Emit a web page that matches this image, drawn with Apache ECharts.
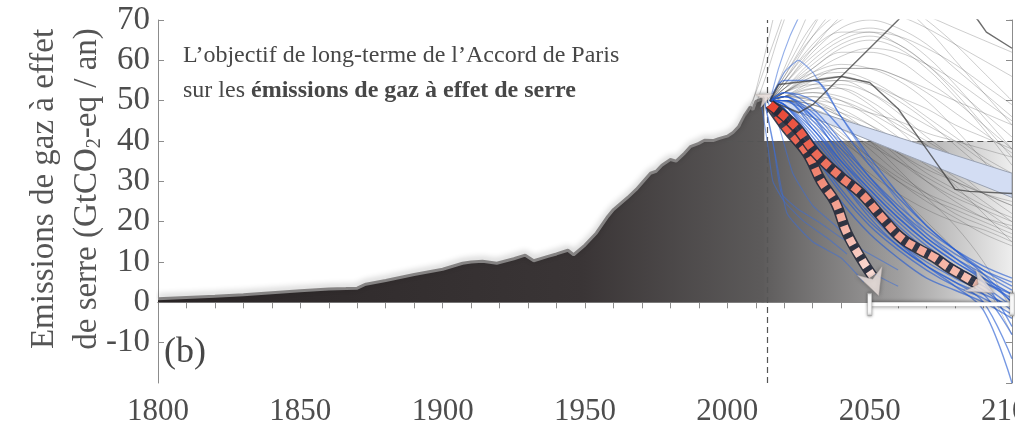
<!DOCTYPE html>
<html>
<head>
<meta charset="utf-8">
<title>Emissions de gaz à effet de serre</title>
<script src="https://cdn.jsdelivr.net/npm/echarts@6/dist/echarts.min.js"></script>
<style>
  html, body { margin: 0; padding: 0; background: #fff; }
  #chart { width: 1015px; height: 428px; }
</style>
</head>
<body>
<div id="chart"></div>
<script>
// historique des émissions (GtCO2-eq / an)
const histYears = [1800, 1810, 1820, 1830, 1840, 1850, 1860, 1866, 1870, 1873, 1880, 1890, 1900, 1907, 1910, 1914, 1919, 1925, 1929, 1932, 1937, 1940, 1944, 1946, 1950, 1954, 1958, 1960, 1965, 1968, 1970, 1973, 1975, 1977, 1980, 1982, 1985, 1987, 1990, 1992, 1995, 1997, 2000, 2002, 2004, 2006, 2008, 2009, 2010, 2012, 2013]
const histValues = [0.9, 1.2, 1.5, 1.9, 2.4, 2.9, 3.3, 3.4, 3.5, 4.5, 5.4, 6.9, 8.2, 9.7, 10.0, 10.2, 9.7, 10.8, 11.7, 10.3, 11.4, 12.0, 12.9, 11.8, 14.2, 17.2, 21.3, 23.0, 26.0, 28.0, 29.6, 32.0, 32.5, 34.0, 35.4, 35.0, 37.0, 38.6, 39.4, 40.2, 40.1, 40.6, 41.2, 42.1, 43.6, 46.3, 48.4, 47.8, 49.8, 50.4, 50.8]

// scénarios (gris)
const grayYears = [2015, 2020, 2030, 2040, 2050, 2060, 2070, 2080, 2090, 2100]
const grayRuns = [
  [50, 56, 68, 80, 90, 95, 98, 100, 100, 100],
  [50, 58, 74, 88, 96, 100, 100, 100, 100, 100],
  [50, 54, 63, 71, 76, 78, 78, 76, 73, 70],
  [50, 55, 64, 70, 72, 71, 68, 64, 60, 56],
  [50, 53, 60, 65, 67, 66, 63, 59, 54, 49],
  [50, 54, 62, 68, 70, 68, 64, 58, 52, 46],
  [50, 52, 57, 61, 63, 62, 59, 55, 50, 45],
  [50, 53, 58, 62, 62, 60, 55, 50, 44, 38],
  [50, 51, 55, 58, 58, 56, 52, 47, 42, 37],
  [50, 52, 56, 57, 55, 51, 46, 41, 36, 32],
  [50, 51, 53, 54, 52, 48, 44, 40, 35, 31],
  [50, 50, 51, 50, 47, 43, 39, 35, 31, 28],
  [50, 51, 52, 50, 46, 41, 36, 31, 27, 24],
  [50, 50, 49, 46, 42, 37, 32, 28, 24, 21],
  [50, 49, 47, 44, 40, 35, 30, 26, 23, 20],
  [50, 51, 50, 47, 42, 36, 30, 25, 21, 18],
  [50, 50, 48, 44, 38, 32, 27, 22, 19, 16],
  [50, 49, 46, 41, 36, 31, 27, 24, 21, 19],
  [50, 50, 49, 46, 43, 40, 37, 34, 31, 29],
  [50, 52, 55, 55, 52, 47, 41, 36, 32, 29],
  [50, 51, 51, 48, 44, 39, 34, 30, 27, 25],
  [50, 49, 45, 40, 35, 30, 26, 23, 20, 17],
  [50, 50, 47, 42, 36, 30, 25, 21, 17, 14],
  [50, 51, 53, 53, 50, 45, 39, 33, 27, 22],
  [50, 53, 59, 64, 66, 64, 59, 52, 44, 36],
  [50, 54, 61, 66, 68, 66, 61, 54, 46, 38],
  [50, 57, 69, 76, 78, 75, 70, 64, 57, 50],
  [50, 55, 66, 74, 77, 74, 68, 60, 52, 44],
  [50, 52, 56, 58, 58, 56, 53, 50, 47, 44],
  [50, 51, 54, 55, 54, 51, 48, 44, 41, 38],
  [50, 50, 48, 45, 41, 37, 33, 30, 27, 24],
  [50, 49, 44, 38, 32, 27, 23, 20, 18, 15],
  [50, 52, 54, 53, 49, 43, 36, 29, 22, 15],
  [50, 50, 50, 49, 47, 45, 42, 40, 38, 36],
  [50, 56, 66, 72, 74, 73, 71, 68, 65, 62],
  [50, 53, 57, 59, 58, 55, 50, 43, 35, 26],
  [50, 51, 50, 46, 40, 33, 26, 19, 10, -2],
  [50, 50, 47, 41, 34, 27, 20, 13, 5, -8],
  [50, 52, 58, 63, 65, 63, 58, 51, 43, 34],
  [50, 51, 52, 51, 48, 44, 40, 36, 33, 30],
  [50, 50, 49, 47, 44, 40, 35, 30, 25, 20],
  [50, 55, 63, 67, 67, 64, 59, 53, 47, 41],
  [50, 52, 55, 56, 54, 50, 45, 39, 33, 27],
  [50, 49, 46, 43, 39, 35, 31, 27, 23, 18]
]
const grayEarly = [
  [[2005, 44], [2010, 52], [2015, 62], [2020, 72]],
  [[2008, 47], [2012, 58], [2016, 70]],
  [[2010, 49], [2014, 57], [2018, 66], [2021, 72]]
]

// scénarios compatibles avec l'accord (bleu)
const blueYears = [2015, 2020, 2030, 2040, 2050, 2060, 2070, 2080, 2090, 2100]
const blueRuns = [
  [50, 49, 40, 30, 21, 14, 9, 5, 2, -1],
  [50, 47, 35, 25, 17, 11, 6, 3, 0, -4],
  [50, 50, 44, 35, 27, 20, 14, 9, 5, 1],
  [50, 52, 48, 40, 31, 23, 16, 11, 7, 3],
  [50, 48, 38, 28, 20, 14, 9, 5, 0, -14],
  [50, 51, 45, 37, 29, 22, 16, 11, 6, 0],
  [50, 49, 42, 33, 25, 18, 12, 7, 3, -2],
  [50, 55, 55, 46, 36, 27, 19, 13, 8, 4],
  [50, 48, 39, 31, 24, 18, 13, 9, 5, 2],
  [50, 50, 46, 38, 30, 23, 17, 12, 8, 5],
  [50, 49, 41, 32, 23, 15, 9, 4, -2, -20],
  [50, 52, 50, 43, 34, 26, 19, 13, 7, 0],
  [50, 47, 37, 27, 19, 13, 8, 4, 1, -3],
  [50, 51, 47, 39, 31, 24, 18, 13, 9, 6],
  [50, 48, 40, 30, 22, 15, 10, 6, 2, -8],
  [50, 50, 43, 34, 26, 19, 13, 8, 4, -1],
  [50, 51, 46, 36, 28, 21, 15, 10, 6, 2],
  [50, 49, 43, 35, 28, 21, 15, 10, 5, -6]
]
const blueOdd = [
  [[2013, 50], [2016, 40], [2019, 27], [2025, 23], [2032, 20], [2040, 16], [2050, 12], [2060, 8]],
  [[2013, 50], [2017, 36], [2021, 22], [2030, 15], [2040, 11], [2048, 5]],
  [[2014, 50], [2018, 44], [2023, 32], [2030, 24], [2038, 19], [2046, 13], [2052, 7], [2060, 4]],
  [[2012, 49], [2014, 40], [2016, 30], [2020, 25], [2027, 20], [2035, 16], [2042, 12]],
  [[2015, 50], [2020, 57], [2025, 60], [2030, 57], [2040, 46], [2050, 35], [2060, 25], [2070, 17], [2080, 11], [2090, 6], [2100, 2]],
  [[2015, 50], [2018, 58], [2022, 66], [2026, 72]]
]

// scénarios mis en évidence (gris foncé)
const darkRuns = [
  [[2015, 50], [2025, 47], [2030, 49], [2040, 56], [2050, 63], [2060, 70], [2065, 74]],
  [[2015, 50], [2018, 54], [2030, 55], [2040, 56], [2050, 54.5], [2060, 48], [2070, 38], [2080, 28], [2085, 27.5], [2100, 27]],
  [[2080, 76], [2088, 70], [2091, 67], [2100, 63]]
]

// trajectoire des engagements (coin bleu clair)
const wedgeYears = [2017, 2100]
const wedgeLow = [49.5, 26]
const wedgeHigh = [50.5, 32]

// flèches pointillées
const mainArrowYears = [2015, 2024, 2031, 2040, 2047, 2055, 2061, 2067, 2073, 2077, 2083, 2088]
const mainArrowValues = [49, 43.5, 37, 31, 27, 20.5, 16, 13.3, 11, 9, 6.5, 4.5]
const steepArrowYears = [2015, 2021, 2028, 2033, 2038, 2042, 2048, 2051]
const steepArrowValues = [49, 43, 37, 30, 24.7, 17.2, 9.7, 6.5]

// neutralité : fourchette 2050-2100
const rangeYears = [2050, 2100]
const rangeValues = [-0.5, -0.5]

const chart = echarts.init(document.getElementById('chart'))
const serif = '"Liberation Serif", "DejaVu Serif", serif'
const pairs = (xs, ys) => xs.map((x, i) => [x, ys[i]])
const last = arr => arr[arr.length - 1]

const axisGray = '#8c8c8c'
const baseX = {
  type: 'value', min: 1800, max: 2100, interval: 50,
  axisLine: { show: true, lineStyle: { color: axisGray } },
  axisTick: { show: true, inside: true, length: 6, lineStyle: { color: axisGray } },
  minorTick: { show: true, splitNumber: 5, length: 6, lineStyle: { color: axisGray } },
  splitLine: { show: false }
}
const baseY = {
  type: 'value', min: -20, max: 70, interval: 10,
  axisLine: { show: true, lineStyle: { color: axisGray } },
  axisTick: { show: true, inside: true, length: 6, lineStyle: { color: axisGray } },
  splitLine: { show: false }
}

let series = []

// zone future grisée (commence sous la fin de l'historique)
series.push({
  type: 'line', data: [], z: 1, silent: true,
  markArea: {
    silent: true,
    itemStyle: {
      opacity: 1,
      color: new echarts.graphic.LinearGradient(0, 0, 1, 0, [
        { offset: 0, color: '#5d5b5b' },
        { offset: 0.55, color: '#a09f9f' },
        { offset: 1, color: '#eeeeee' }
      ])
    },
    data: [[{ xAxis: last(histYears) - 1, yAxis: 0 }, { xAxis: 2100, yAxis: 40 }]]
  }
})

series.push({
  type: 'line',
  data: pairs(histYears, histValues),
  z: 2,
  silent: true,
  showSymbol: false,
  lineStyle: { color: '#858383', width: 3, shadowColor: 'rgba(0,0,0,0.3)', shadowBlur: 6, shadowOffsetY: -2 },
  areaStyle: {
    opacity: 1,
    color: new echarts.graphic.LinearGradient(0, 0, 1, 0, [
      { offset: 0, color: '#2a2526' },
      { offset: 0.7, color: '#3a3536' },
      { offset: 1, color: '#5d5b5b' }
    ])
  }
})

// pointillés
series.push({
  type: 'line', data: [], z: 3, silent: true,
  markLine: {
    silent: true,
    symbol: ['none', 'none'],
    label: { show: false },
    lineStyle: { color: '#555', type: [6, 4], width: 1.2 },
    data: [
      { xAxis: 2014 },
      [{ coord: [2000, 40] }, { coord: [2100, 40] }]
    ]
  }
})

grayRuns.forEach(run => {
  series.push({
    type: 'line', data: pairs(grayYears, run), smooth: 0.35, showSymbol: false, silent: true, z: 4,
    lineStyle: { color: 'rgba(60,60,60,0.26)', width: 1 }
  })
})
grayEarly.forEach(run => {
  series.push({
    type: 'line', data: run, smooth: 0.3, showSymbol: false, silent: true, z: 4,
    lineStyle: { color: 'rgba(60,60,60,0.26)', width: 1 }
  })
})

series.push({
  type: 'custom', z: 5, silent: true, clip: true,
  data: wedgeYears.map((y, i) => [y, wedgeLow[i], wedgeHigh[i]]),
  encode: { x: 0, y: [1, 2] },
  renderItem: (params, api) => {
    if (params.dataIndex !== 0) return null
    const upper = wedgeYears.map((y, i) => api.coord([y, wedgeHigh[i]]))
    const lower = wedgeYears.map((y, i) => api.coord([y, wedgeLow[i]])).reverse()
    return {
      type: 'polygon',
      shape: { points: upper.concat(lower) },
      style: { fill: '#d3ddf3', stroke: '#9aa2b2', lineWidth: 1 }
    }
  }
})

blueRuns.forEach(run => {
  series.push({
    type: 'line', data: pairs(blueYears, run), smooth: 0.35, showSymbol: false, silent: true, z: 6,
    lineStyle: { color: 'rgba(35,90,210,0.62)', width: 1.4 }
  })
})
blueOdd.forEach(run => {
  series.push({
    type: 'line', data: run, smooth: 0.15, showSymbol: false, silent: true, z: 6,
    lineStyle: { color: 'rgba(60,110,215,0.55)', width: 1.2 }
  })
})

darkRuns.forEach(run => {
  series.push({
    type: 'line', data: run, showSymbol: false, silent: true, z: 7,
    lineStyle: { color: 'rgba(60,60,60,0.75)', width: 1.4 }
  })
})

// fourchette blanche
series.push({
  type: 'line', data: pairs(rangeYears, rangeValues), z: 8, silent: true, clip: false,
  symbol: 'rect', symbolSize: [4, 22], showSymbol: true,
  itemStyle: { color: '#ffffff', borderColor: '#aaaaaa', borderWidth: 0.6, shadowColor: 'rgba(0,0,0,0.5)', shadowBlur: 3 },
  lineStyle: { color: '#ffffff', width: 4, shadowColor: 'rgba(0,0,0,0.6)', shadowBlur: 4 }
})

// flèches pointillées : fond sombre puis carrés
const arrowDefs = [
  { years: steepArrowYears, values: steepArrowValues, end: '#fbe2dc' },
  { years: mainArrowYears, values: mainArrowValues, end: '#f8c6b9' }
]
arrowDefs.forEach(a => {
  series.push({
    type: 'line', data: pairs(a.years, a.values), smooth: 0.4, showSymbol: false, silent: true, z: 9,
    lineStyle: { color: 'rgba(38,42,58,0.9)', width: 11, cap: 'butt' }
  })
  series.push({
    type: 'line', data: pairs(a.years, a.values), smooth: 0.4, showSymbol: false, silent: true, z: 9,
    lineStyle: {
      width: 8, type: [8, 5], cap: 'butt',
      color: new echarts.graphic.LinearGradient(0, 0, 1, 1, [
        { offset: 0, color: '#e8402f' },
        { offset: 0.45, color: '#f08a76' },
        { offset: 1, color: a.end }
      ])
    }
  })
})

const chevron = 'path://M0,0 L12,6 L0,12 L4,6 Z'
series.push({
  type: 'scatter', z: 10, silent: true,
  symbol: chevron,
  itemStyle: { color: '#fdf1ee', borderColor: '#b9b0ae', borderWidth: 0.6, shadowColor: 'rgba(0,0,0,0.4)', shadowBlur: 4 },
  data: [
    { value: [last(mainArrowYears) + 1.5, last(mainArrowValues) - 0.6], symbolSize: [26, 24], symbolRotate: -28 },
    { value: [last(steepArrowYears) + 0.6, last(steepArrowValues) - 1.8], symbolSize: [26, 26], symbolRotate: -70 },
    { value: [last(histYears) + 0.3, last(histValues)], symbolSize: [16, 14], symbolRotate: 25 }
  ]
})

const option = {
  animation: false,
  backgroundColor: '#ffffff',
  grid: { left: 158, right: 3, top: 20, bottom: 45, containLabel: false, outerBoundsMode: 'none' },
  xAxis: [
    Object.assign({}, baseX, {
      position: 'bottom',
      axisLabel: { color: '#4d4d4d', fontFamily: serif, fontSize: 31, margin: 13, formatter: v => String(v) }
    }),
    Object.assign({}, baseX, { position: 'top', axisLabel: { show: false } })
  ],
  yAxis: [
    Object.assign({}, baseY, {
      position: 'left',
      axisLabel: { color: '#4d4d4d', fontFamily: serif, fontSize: 33, margin: 8, showMinLabel: false, formatter: v => String(v) }
    }),
    Object.assign({}, baseY, { position: 'right', axisLabel: { show: false } })
  ],
  graphic: [
    {
      type: 'text', x: 66, y: 189, rotation: Math.PI / 2, silent: true,
      style: {
        text: '{n|Emissions de gaz à effet}\n{n|de serre (GtCO}{s|2}{n|-eq / an)}',
        align: 'center', verticalAlign: 'middle',
        rich: {
          n: { fontFamily: serif, fontSize: 33, fill: '#555555', lineHeight: 43 },
          s: { fontFamily: serif, fontSize: 20, fill: '#555555', lineHeight: 43, padding: [14, 0, 0, 0] }
        }
      }
    },
    {
      type: 'text', left: 183, top: 44, silent: true,
      style: {
        text: '{n|L’objectif de long-terme de l’Accord de Paris}\n{n|sur les }{b|émissions de gaz à effet de serre}',
        rich: {
          n: { fontFamily: serif, fontSize: 24, fill: '#474747', lineHeight: 35 },
          b: { fontFamily: serif, fontSize: 24, fill: '#474747', fontWeight: 'bold', lineHeight: 35 }
        }
      }
    },
    {
      type: 'text', left: 164, top: 335, silent: true,
      style: { text: '(b)', fontFamily: serif, fontSize: 36, fill: '#474747' }
    }
  ],
  series: series
}

chart.setOption(option)
</script>
</body>
</html>
